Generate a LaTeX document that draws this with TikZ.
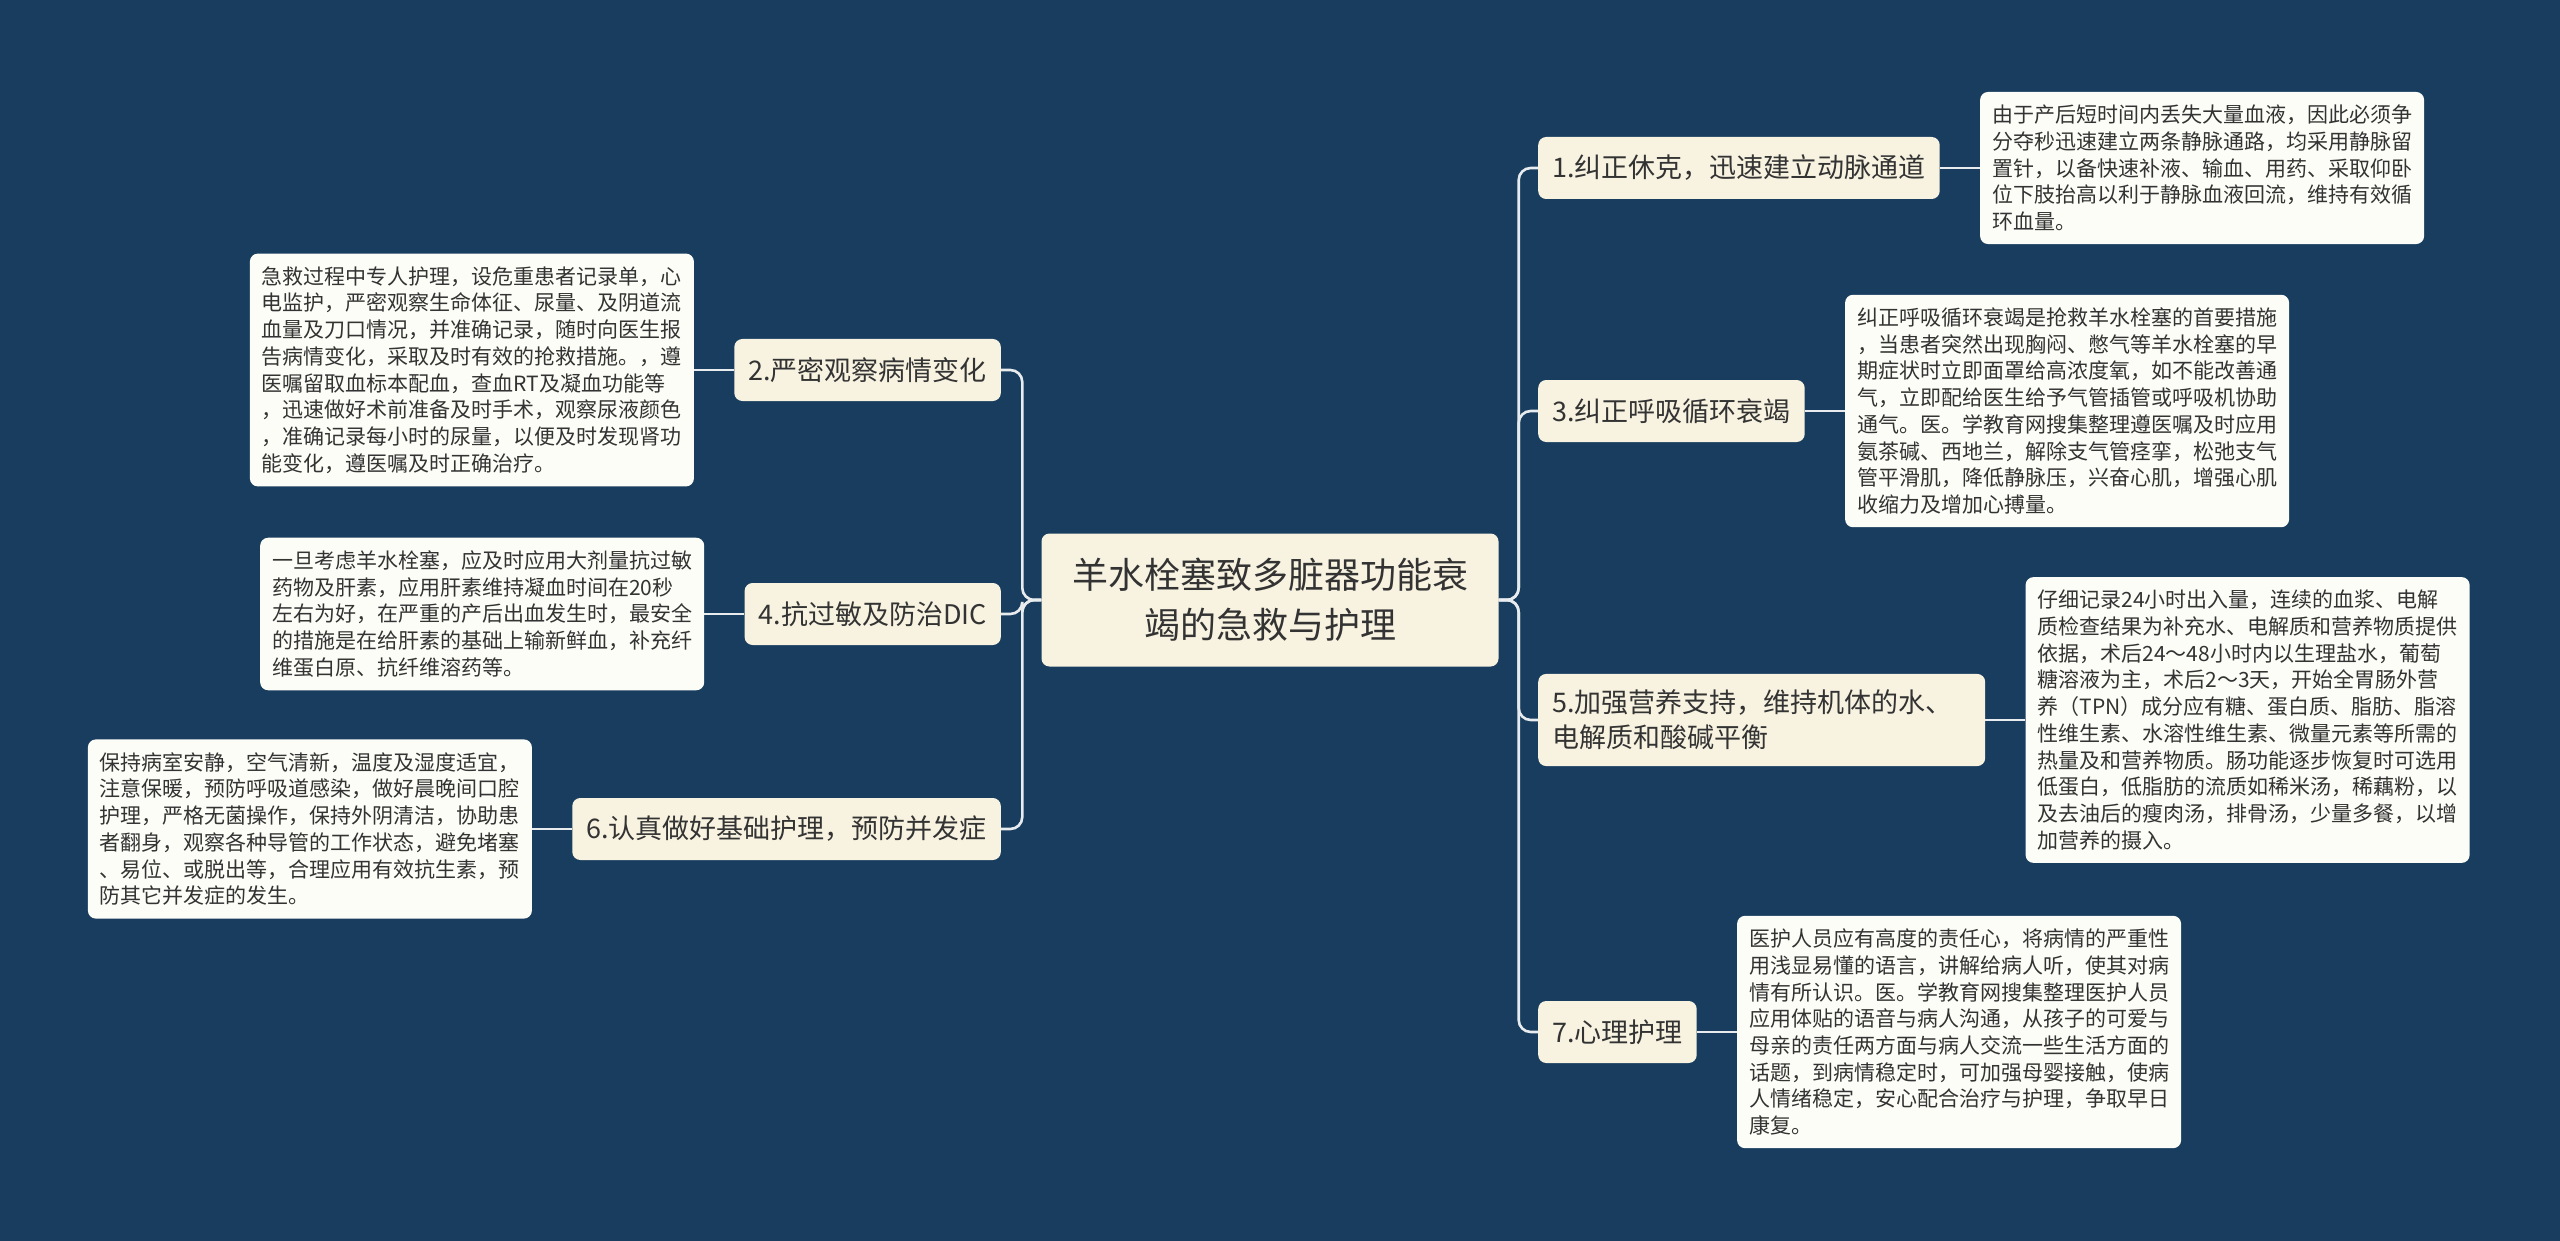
\documentclass[tikz,border=0pt]{standalone}
\usepackage{fontspec}
\setmainfont{Noto Sans CJK SC}
\usepackage{xcolor}
\usepackage{tikz}
\usetikzlibrary{positioning}
\definecolor{bgnavy}{HTML}{183D5E}
\definecolor{cream}{HTML}{F8F3E1}
\definecolor{paper}{HTML}{FDFDF8}
\definecolor{ink}{HTML}{333333}
\definecolor{wire}{HTML}{E9ECEE}
\tikzstyle{central} = [rectangle, rounded corners=8pt, fill=cream, text=ink, font=\fontsize{36}{50}\selectfont, align=center, minimum width=457pt, minimum height=133pt]
\tikzstyle{branch} = [rectangle, rounded corners=8pt, fill=cream, text=ink, font=\fontsize{27}{35}\selectfont, align=left, inner xsep=14pt, inner ysep=16pt, minimum height=62pt]
\tikzstyle{detail} = [rectangle, rounded corners=8pt, fill=paper, text=ink, font=\fontsize{21}{26.7}\selectfont, align=left, inner xsep=12pt, inner ysep=13pt]
\tikzstyle{link} = [line width=2.6pt, draw=wire, rounded corners=12pt]

\begin{document}
\begin{tikzpicture}[x=1pt, y=-1pt]

%==============================================
%Mapa:羊水栓塞致多脏器功能衰竭
%==============================================
\useasboundingbox (0,0) rectangle (2560,1241);
\fill [bgnavy] (0,0) rectangle (2560,1241);

%Raiz==============================================
\node (main) [central] at (1270,600) {羊水栓塞致多脏器功能衰\\竭的急救与护理};

%Nodo 1==============================================
\node (st1) [branch, anchor=west] at (1538,168) {1.纠正休克，迅速建立动脉通道};
\node (det1) [detail, right=40pt of st1] {由于产后短时间内丢失大量血液，因此必须争\\分夺秒迅速建立两条静脉通路，均采用静脉留\\置针，以备快速补液、输血、用药、采取仰卧\\位下肢抬高以利于静脉血液回流，维持有效循\\环血量。};

%Nodo 3==============================================
\node (st3) [branch, anchor=west] at (1538,411) {3.纠正呼吸循环衰竭};
\node (det3) [detail, right=40pt of st3] {纠正呼吸循环衰竭是抢救羊水栓塞的首要措施\\，当患者突然出现胸闷、憋气等羊水栓塞的早\\期症状时立即面罩给高浓度氧，如不能改善通\\气，立即配给医生给予气管插管或呼吸机协助\\通气。医。学教育网搜集整理遵医嘱及时应用\\氨茶碱、西地兰，解除支气管痉挛，松弛支气\\管平滑肌，降低静脉压，兴奋心肌，增强心肌\\收缩力及增加心搏量。};

%Nodo 5==============================================
\node (st5) [branch, anchor=west, text width=419pt] at (1538,720) {5.加强营养支持，维持机体的水、\\电解质和酸碱平衡};
\node (det5) [detail, right=40pt of st5] {仔细记录24小时出入量，连续的血浆、电解\\质检查结果为补充水、电解质和营养物质提供\\依据，术后24～48小时内以生理盐水，葡萄\\糖溶液为主，术后2～3天，开始全胃肠外营\\养（TPN）成分应有糖、蛋白质、脂肪、脂溶\\性维生素、水溶性维生素、微量元素等所需的\\热量及和营养物质。肠功能逐步恢复时可选用\\低蛋白，低脂肪的流质如稀米汤，稀藕粉，以\\及去油后的瘦肉汤，排骨汤，少量多餐，以增\\加营养的摄入。};

%Nodo 7==============================================
\node (st7) [branch, anchor=west] at (1538,1032) {7.心理护理};
\node (det7) [detail, right=40pt of st7] {医护人员应有高度的责任心，将病情的严重性\\用浅显易懂的语言，讲解给病人听，使其对病\\情有所认识。医。学教育网搜集整理医护人员\\应用体贴的语音与病人沟通，从孩子的可爱与\\母亲的责任两方面与病人交流一些生活方面的\\话题，到病情稳定时，可加强母婴接触，使病\\人情绪稳定，安心配合治疗与护理，争取早日\\康复。};

%Nodo 2==============================================
\node (st2) [branch, anchor=east] at (1001,370) {2.严密观察病情变化};
\node (det2) [detail, left=40pt of st2] {急救过程中专人护理，设危重患者记录单，心\\电监护，严密观察生命体征、尿量、及阴道流\\血量及刀口情况，并准确记录，随时向医生报\\告病情变化，采取及时有效的抢救措施。，遵\\医嘱留取血标本配血，查血RT及凝血功能等\\，迅速做好术前准备及时手术，观察尿液颜色\\，准确记录每小时的尿量，以便及时发现肾功\\能变化，遵医嘱及时正确治疗。};

%Nodo 4==============================================
\node (st4) [branch, anchor=east] at (1001,614) {4.抗过敏及防治DIC};
\node (det4) [detail, left=40pt of st4] {一旦考虑羊水栓塞，应及时应用大剂量抗过敏\\药物及肝素，应用肝素维持凝血时间在20秒\\左右为好，在严重的产后出血发生时，最安全\\的措施是在给肝素的基础上输新鲜血，补充纤\\维蛋白原、抗纤维溶药等。};

%Nodo 6==============================================
\node (st6) [branch, anchor=east] at (1001,829) {6.认真做好基础护理，预防并发症};
\node (det6) [detail, left=40pt of st6] {保持病室安静，空气清新，温度及湿度适宜，\\注意保暖，预防呼吸道感染，做好晨晚间口腔\\护理，严格无菌操作，保持外阴清洁，协助患\\者翻身，观察各种导管的工作状态，避免堵塞\\、易位、或脱出等，合理应用有效抗生素，预\\防其它并发症的发生。};

%==============================================
\foreach \s in {st1,st3,st5,st7}
  \draw [link] (main.east) -- ++(20,0) |- (\s.west);
\foreach \s in {st2,st4,st6}
  \draw [link] (main.west) -- ++(-19,0) |- (\s.east);
\foreach \s/\d in {st1/det1,st3/det3,st5/det5,st7/det7}
  \draw [link] (\s.east) -- (\d.west);
\foreach \s/\d in {st2/det2,st4/det4,st6/det6}
  \draw [link] (\s.west) -- (\d.east);
\end{tikzpicture}
\end{document}
